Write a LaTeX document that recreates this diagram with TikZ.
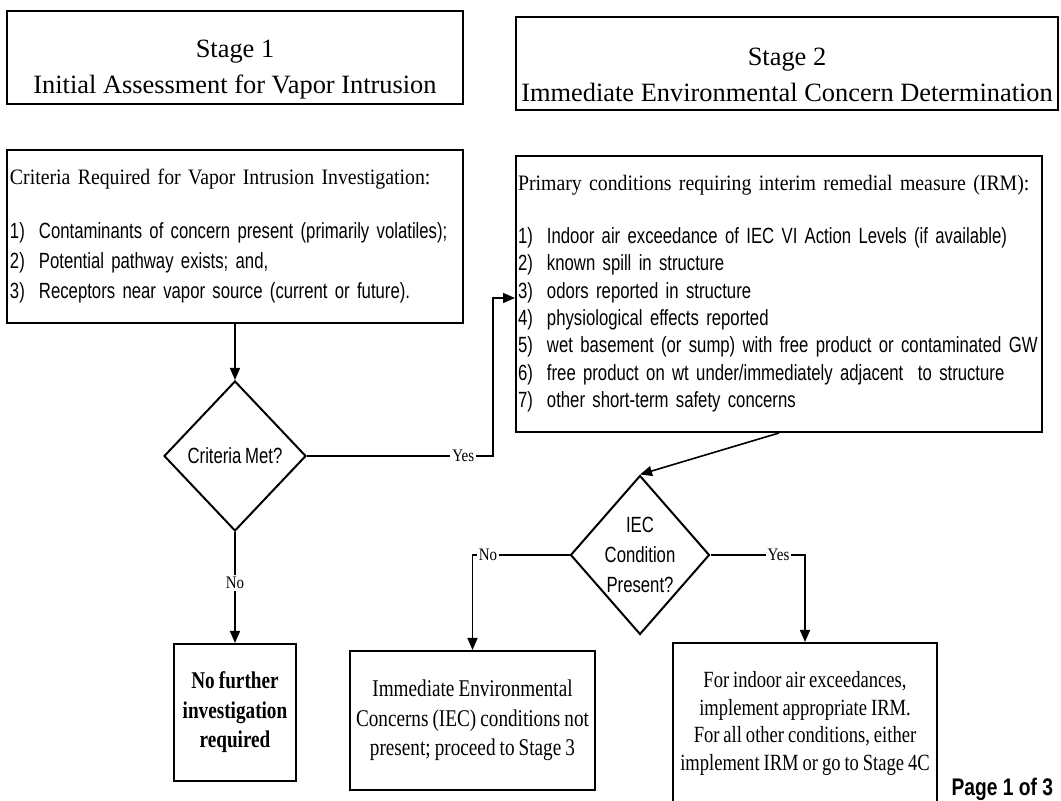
\documentclass[tikz,border=0pt]{standalone}
\usepackage{fontspec}
\setmainfont{Liberation Serif}
\newfontfamily\listfont[FakeStretch=0.76, WordSpace=0.8]{Liberation Sans}
\newfontfamily\headfont[FakeStretch=0.9, WordSpace=0.9]{Liberation Serif}
\newfontfamily\boxfont[FakeStretch=0.8, WordSpace=0.85]{Liberation Serif}
\newfontfamily\tagfont[FakeStretch=0.85]{Liberation Serif}
\newfontfamily\pagefont[FakeStretch=0.8]{Liberation Sans}
\usepackage{tikz}
\usetikzlibrary{shapes.geometric,arrows.meta}

\tikzset{
  box/.style={draw, line width=1pt, inner sep=0pt},
  decision/.style={diamond, draw, line width=1pt, inner sep=0pt, align=center,
    font=\listfont\fontsize{11}{15}\selectfont},
  flow/.style={line width=0.8pt, -{Triangle[length=6pt,width=5pt]}},
  tag/.style={fill=white, inner sep=1pt, font=\tagfont\fontsize{8.8}{10}\selectfont},
  titletext/.style={align=center, font=\fontsize{13.2}{18}\selectfont},
  endtext/.style={align=center, font=\boxfont\fontsize{12}{14.75}\selectfont}
}
\newcommand{\itm}[2]{\mbox{\makebox[14.5pt][l]{#1)}#2}}

\begin{document}
\begin{tikzpicture}[x=0.5pt, y=-0.5pt]
  \useasboundingbox (0,0) rectangle (1061,801);
  \clip (0,0) rectangle (1061,801);

  % Stage headings
  \node[box, minimum width=228pt, minimum height=46.5pt] (stage1) at (235,57.5) {};
  \node[titletext] (stage1title) at (235,70) {Stage 1\\Initial Assessment for Vapor Intrusion};
  \node[box, minimum width=271pt, minimum height=46.5pt] (stage2) at (787,63.5) {};
  \node[titletext] (stage2title) at (787,74.5) {Stage 2\\Immediate Environmental Concern Determination};

  % Stage 1 criteria
  \node[box, text width=225pt, inner xsep=1.5pt, minimum height=86.5pt, align=left,
    font=\listfont\fontsize{11}{15}\selectfont] (criteria) at (235,236.5)
    {\mbox{\headfont Criteria Required for Vapor Intrusion Investigation:}\\[12pt]
     \itm{1}{Contaminants of concern present (primarily volatiles);}\\
     \itm{2}{Potential pathway exists; and,}\\
     \itm{3}{Receptors near vapor source (current or future).}};

  % Stage 2 conditions
  \node[box, text width=261pt, inner xsep=1pt, minimum height=138pt, align=left,
    font=\listfont\fontsize{11}{13.7}\selectfont] (primary) at (779,294)
    {\mbox{\headfont Primary conditions requiring interim remedial measure (IRM):}\\[12.5pt]
     \itm{1}{Indoor air exceedance of IEC VI Action Levels (if available)}\\
     \itm{2}{known spill in structure}\\
     \itm{3}{odors reported in structure}\\
     \itm{4}{physiological effects reported}\\
     \itm{5}{wet basement (or sump) with free product or contaminated GW}\\
     \itm{6}{free product on wt under/immediately adjacent\ \ to structure}\\
     \itm{7}{other short-term safety concerns}};

  % Decisions
  \node[decision, minimum width=71pt, minimum height=75pt] (critmet) at (235,456) {Criteria Met?};
  \node[decision, inner sep=-2pt, shape aspect=0.87, minimum width=69.5pt, minimum height=79.5pt]
    (iec) at (640,555) {IEC\\Condition\\Present?};

  % Outcomes
  \node[box, endtext, minimum width=61pt, minimum height=68.5pt] (nofurther) at (235,712.5)
    {\bfseries No further\\\bfseries investigation\\\bfseries required};
  \node[box, endtext, minimum width=122.5pt, minimum height=69.5pt] (notpresent) at (472.5,720.5)
    {Immediate Environmental\\Concerns (IEC) conditions not\\present; proceed to Stage 3};
  \node[box, endtext, font=\boxfont\fontsize{11.6}{13.85}\selectfont,
    minimum width=132pt, minimum height=80.5pt] (irmbox) at (805,723.5)
    {For indoor air exceedances,\\implement appropriate IRM.\\For all other conditions, either\\implement IRM or go to Stage 4C};

  \node[anchor=east, font=\pagefont\bfseries\fontsize{12}{14}\selectfont] (pagenum) at (1060,789) {Page 1 of 3};

  % Connectors
  \coordinate (yesbend) at (493,456);
  \draw[flow] (criteria.south) -- (critmet.north);
  \draw[flow] (critmet.east) -- node[tag, pos=0.84] {Yes} (yesbend) |- ([yshift=-2pt]primary.west);
  \draw[flow] (critmet.south) -- node[tag, pos=0.46] {No} (nofurther.north);
  \draw[flow] (primary.south) -- (iec.north);
  \draw[flow] (iec.west) -| node[tag, pos=0.42] {No} (notpresent.north);
  \draw[flow] (iec.east) -| node[tag, pos=0.36] {Yes} (irmbox.north);
\end{tikzpicture}
\end{document}
